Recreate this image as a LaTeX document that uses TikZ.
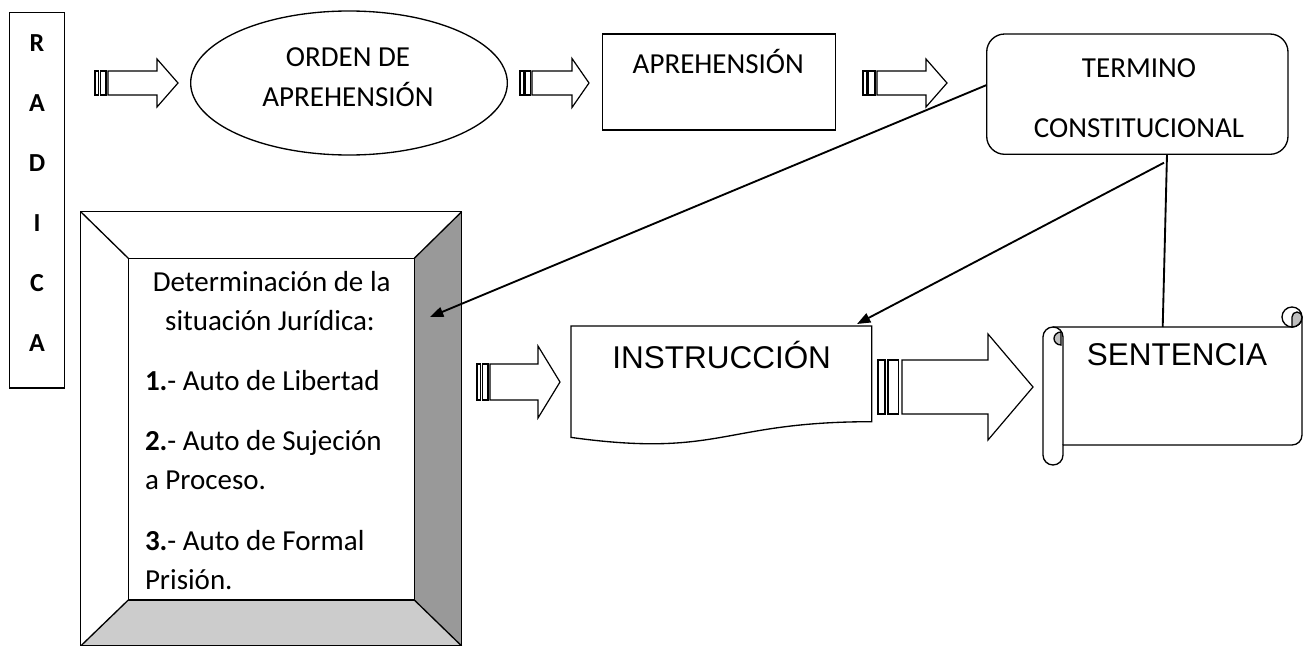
\documentclass[tikz,border=0pt]{standalone}
\usepackage{fontspec}
\setmainfont{Carlito}
\newfontfamily\arialfont{Liberation Sans}
\usetikzlibrary{shapes.geometric,fit,arrows.meta}
\definecolor{bevelR}{gray}{0.6}
\definecolor{bevelB}{gray}{0.8}
\definecolor{curl}{gray}{0.75}
% #1 x0, #2 body start, #3 head start, #4 tip, #5 yc, #6 half body, #7 half head
\newcommand\striparrow[7]{%
  \draw[blk] ({#2},{#5-#6}) -- ({#3},{#5-#6}) -- ({#3},{#5-#7}) -- ({#4},{#5}) -- ({#3},{#5+#7}) -- ({#3},{#5+#6}) -- ({#2},{#5+#6}) -- cycle;
  \draw[blk] ({#1},{#5-#6}) rectangle ({#1+0.29*(#2-#1)},{#5+#6});
  \draw[blk] ({#1+0.42*(#2-#1)},{#5-#6}) rectangle ({#1+0.85*(#2-#1)},{#5+#6});
}
\begin{document}
\begin{tikzpicture}[x=0.75pt,y=-0.75pt,
  outl/.style={draw, line width=1pt, inner sep=0pt, outer sep=0pt},
  blk/.style={draw, line width=0.9pt, fill=white},
  conn/.style={line width=1.4pt},
  arr/.style={conn, -{Triangle[length=10pt,width=7.5pt]}},
  cal/.style={inner sep=0pt, outer sep=0pt, font=\fontsize{21.75}{26}\selectfont},
  calb/.style={inner sep=0pt, outer sep=0pt, font=\fontsize{19.5}{23}\selectfont\bfseries},
  ari/.style={inner sep=0pt, outer sep=0pt, font=\arialfont\fontsize{23.6}{28}\selectfont},
]
\useasboundingbox (0,0) rectangle (1307,646);

% RADICA
\node[outl, fit={(9.3,12.3) (64.3,388)}] (radica) {};
\node[calb, anchor=base] (r1) at (37,51.7) {R};
\node[calb, anchor=base] (r2) at (37,111.8) {A};
\node[calb, anchor=base] (r3) at (37,171.8) {D};
\node[calb, anchor=base] (r4) at (37,231.8) {I};
\node[calb, anchor=base] (r5) at (37,291.8) {C};
\node[calb, anchor=base] (r6) at (37,351.8) {A};

% ORDEN DE APREHENSION
\node[outl, ellipse, minimum width=237.5pt, minimum height=108pt] (orden) at (349,83) {};
\node[cal, anchor=base] (o1) at (348,66.7) {ORDEN DE};
\node[cal, anchor=base] (o2) at (348,106) {APREHENSIÓN};

% APREHENSION
\node[outl, fit={(602.3,34) (835.7,130)}] (apreBox) {};
\node[cal, anchor=base] (apre) at (718.3,73.3) {APREHENSIÓN};

% TERMINO CONSTITUCIONAL
\node[outl, rounded corners=13.5pt, fit={(986.7,34) (1288,154.3)}] (term) {};
\node[cal, anchor=base] (t1) at (1139,77.3) {TERMINO};
\node[cal, anchor=base] (t2) at (1139,137.3) {CONSTITUCIONAL};

% Determinacion box (bevel)
\fill[bevelR] (461.7,211.7) -- (461.7,646) -- (414.3,600) -- (414.3,258.3) -- cycle;
\fill[bevelB] (80.7,646) -- (461.7,646) -- (414.3,600) -- (128.3,600) -- cycle;
\node[outl, fit={(80.7,211.7) (461.7,646)}] (detO) {};
\node[outl, fit={(128.3,258.3) (414.3,600)}] (detI) {};
\draw[line width=1pt] (detO.north west) -- (detI.north west)
  (detO.north east) -- (detI.north east)
  (detO.south west) -- (detI.south west)
  (detO.south east) -- (detI.south east);
\node[cal, anchor=base] (d1) at (271.7,291.7) {Determinación de la};
\node[cal, anchor=base] (d2) at (270,330) {situación Jurídica:};
\node[cal, anchor=base west] (d3) at (145,390.7) {\textbf{1.}- Auto de Libertad};
\node[cal, anchor=base west] (d4) at (145,450.7) {\textbf{2.}- Auto de Sujeción};
\node[cal, anchor=base west] (d5) at (145,489) {a Proceso.};
\node[cal, anchor=base west] (d6) at (145,550.7) {\textbf{3.}- Auto de Formal};
\node[cal, anchor=base west] (d7) at (145,589) {Prisión.};

% INSTRUCCION
\draw[line width=1pt, fill=white] (571,326) -- (871.7,326) -- (871.7,421.7)
  .. controls (721.35,421.7) and (721.35,458.1) .. (571,437.4) -- cycle;
\node[ari, anchor=base] (instr) at (721.7,368.3) {INSTRUCCIÓN};

% SENTENCIA scroll
\draw[line width=1pt, fill=white] (1043,337) arc[start angle=180,end angle=270,radius=10]
  -- (1292,327) arc[start angle=90,end angle=0,radius=10]
  -- (1302,435) arc[start angle=0,end angle=90,radius=10]
  -- (1063,445) -- (1063,455) arc[start angle=0,end angle=180,radius=10] -- cycle;
\draw[line width=1pt, fill=white] (1292,317) circle[radius=10];
\filldraw[fill=curl, line width=1pt] (1292,327) -- (1292,317)
  arc[start angle=180,end angle=360,radius=5]
  arc[start angle=0,end angle=90,radius=10] -- cycle;
\draw[line width=1pt] (1053,327) arc[start angle=270,end angle=360,radius=10] -- (1063,445);
\filldraw[fill=curl, line width=1pt] (1061,332) arc[start angle=270,end angle=90,x radius=7,y radius=6.5] -- cycle;
\node[ari, anchor=base] (sent) at (1177,365) {SENTENCIA};

% striped block arrows
\striparrow{95}{108}{157}{178}{83}{12}{24}
\striparrow{520}{532}{572}{589}{83}{12}{24.5}
\striparrow{863}{877}{926}{947}{83}{12}{24}
\striparrow{477}{490}{538}{560}{382}{18}{36}
\striparrow{878}{902}{988}{1033}{387}{27}{53}

% connectors
\coordinate (y85) at (0,85);
\coordinate (x1167) at (1167,0);
\coordinate (detTip) at (430,317);
\coordinate (termOut) at (1164,162.7);
\coordinate (instrTip) at (857,324);
\coordinate (sentTop) at (1162.7,327);
\draw[arr] (term.west |- y85) -- (detTip);
\draw[arr] (termOut) -- (instrTip);
\draw[conn] (term.south -| x1167) -- (sentTop);
\end{tikzpicture}
\end{document}
